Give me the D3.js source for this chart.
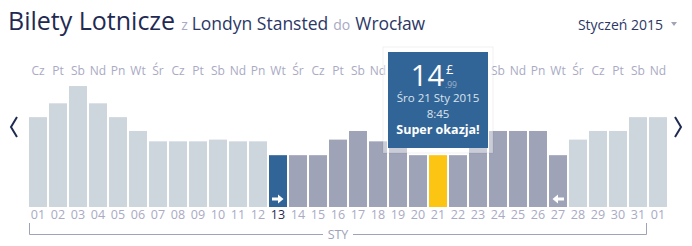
<!DOCTYPE html>
<html>
  <head>
    <meta charset="utf-8" />
    <script src="https://d3js.org/d3.v7.min.js"></script>
    <style>
      body {
        margin: 0;
        background: #fff;
      }
      svg {
        font-family: "Open Sans", "Noto Sans", sans-serif;
      }
    </style>
  </head>
  <body>
    <svg id="chart" width="692" height="246"></svg>

    <script>
      // data
      const dates = ["01", "02", "03", "04", "05", "06", "07", "08", "09", "10", "11", "12", "13", "14", "15", "16",
        "17", "18", "19", "20", "21", "22", "23", "24", "25", "26", "27", "28", "29", "30", "31", "01"];
      const weekdays = ["Cz", "Pt", "Sb", "Nd", "Pn", "Wt", "Śr", "Cz", "Pt", "Sb", "Nd", "Pn", "Wt", "Śr", "Cz", "Pt",
        "Sb", "Nd", "Pn", "Wt", "Śr", "Cz", "Pt", "Sb", "Nd", "Pn", "Wt", "Śr", "Cz", "Pt", "Sb", "Nd"];
      const prices = [25.99, 29.99, 34.99, 29.99, 25.99, 21.99, 18.99, 18.99, 18.99, 19.49, 18.99, 18.99, 14.99, 14.99,
        14.99, 19.49, 21.99, 18.99, 18.99, 14.99, 14.99, 14.99, 21.99, 21.99, 21.99, 21.99, 14.99, 19.49, 21.99, 21.99,
        25.99, 25.99];
      // out = outside the chosen range, sel = departure day, in = inside range, best = best deal
      const states = ["out", "out", "out", "out", "out", "out", "out", "out", "out", "out", "out", "out", "sel", "in",
        "in", "in", "in", "in", "in", "in", "best", "in", "in", "in", "in", "in", "in", "out", "out", "out", "out", "out"];
      const monthLabel = "STY";
      const best = { index: 20, whole: "14", cents: ".99", date: "Śro 21 Sty 2015", time: "8:45", note: "Super okazja!" };

      const svg = d3.select("#chart");
      const idx = d3.range(dates.length);

      const colors = { out: "#cdd5dd", in: "#9ea3b7", sel: "#326597", best: "#fcc413" };
      const labelCol = "#a9aac3";
      const navy = "#1f2a52";

      const x = d3.scaleBand().domain(idx).range([29, 667]).paddingInner(0.1).paddingOuter(0);
      const bottom = 207;
      const y = d3.scaleLinear().domain([0, 35]).range([bottom, 86]);

      // title
      const title = svg.append("text").attr("x", 8).attr("y", 30).attr("fill", navy);
      title.append("tspan").attr("font-size", 25).text("Bilety Lotnicze");
      title.append("tspan").attr("font-size", 14).attr("fill", labelCol).attr("dx", 6).text("z");
      title.append("tspan").attr("font-size", 17.5).attr("fill", "#2c3766").attr("dx", 4).text("Londyn Stansted");
      title.append("tspan").attr("font-size", 14).attr("fill", labelCol).attr("dx", 5).text("do");
      title.append("tspan").attr("font-size", 17.5).attr("fill", "#2c3766").attr("dx", 5).text("Wrocław");

      svg.append("text")
        .attr("x", 663).attr("y", 30)
        .attr("text-anchor", "end")
        .attr("font-size", 14)
        .attr("fill", "#2c3766")
        .text("Styczeń 2015");
      svg.append("path").attr("d", "M671,22L677,22L674,26Z").attr("fill", "#a0a4b4");

      // tooltip placement (bar centre of the best deal)
      const tx = x(best.index) + x.bandwidth() / 2;
      const tipHalf = 50;

      // weekday row (labels hidden under the tooltip are not shown)
      svg.append("g")
        .selectAll("text")
        .data(idx.filter((i) => Math.abs(x(i) + x.bandwidth() / 2 - tx) > tipHalf))
        .join("text")
        .attr("x", (i) => x(i) + x.bandwidth() / 2)
        .attr("y", 75)
        .attr("text-anchor", "middle")
        .attr("font-size", 12)
        .attr("fill", labelCol)
        .text((i) => weekdays[i]);

      // bars
      svg.append("g")
        .selectAll("rect")
        .data(idx)
        .join("rect")
        .attr("x", (i) => x(i))
        .attr("y", (i) => y(prices[i]))
        .attr("width", x.bandwidth())
        .attr("height", (i) => bottom - y(prices[i]))
        .attr("fill", (i) => colors[states[i]]);

      // arrows at start / end of the range
      const first = states.indexOf("sel");
      const last = states.lastIndexOf("in");
      const arrow = (cx, dir) =>
        "M" + (cx - 6 * dir) + ",197.5h" + 6 * dir + "v-3l" + 5.5 * dir + ",4.5l" + -5.5 * dir + ",4.5v-3h" + -6 * dir + "Z";
      svg.append("path").attr("d", arrow(x(first) + x.bandwidth() / 2, 1)).attr("fill", "#fff");
      svg.append("path").attr("d", arrow(x(last) + x.bandwidth() / 2, -1)).attr("fill", "#fff");

      // date row
      svg.append("g")
        .selectAll("text")
        .data(idx)
        .join("text")
        .attr("x", (i) => x(i) + x.bandwidth() / 2)
        .attr("y", 219)
        .attr("text-anchor", "middle")
        .attr("font-size", 12.5)
        .attr("fill", (i) => (states[i] === "sel" ? navy : labelCol))
        .text((i) => dates[i]);

      // month bracket
      const bx0 = x(0) + 0.5;
      const bx1 = x(30) + x.bandwidth() - 0.5;
      const bmid = (bx0 + bx1) / 2;
      svg.append("path")
        .attr("d", "M" + bx0 + ",223V234.5H" + (bmid - 15) + "M" + (bmid + 15) + ",234.5H" + bx1 + "V223")
        .attr("fill", "none")
        .attr("stroke", "#9ea3b7");
      svg.append("text")
        .attr("x", bmid).attr("y", 239)
        .attr("text-anchor", "middle")
        .attr("font-size", 12.5)
        .attr("fill", "#9ea3b7")
        .text(monthLabel);

      // prev / next chevrons
      svg.append("path").attr("d", "M17,117L11,127L17,137").attr("fill", "none").attr("stroke", navy).attr("stroke-width", 2);
      svg.append("path").attr("d", "M675,117L681,127L675,137").attr("fill", "none").attr("stroke", navy).attr("stroke-width", 2);

      // tooltip over best deal
      const tip = svg.append("g").attr("transform", "translate(" + tx + ",0)");
      tip.append("rect")
        .attr("x", -tipHalf - 5).attr("y", 47).attr("width", 2 * tipHalf + 10).attr("height", 106)
        .attr("fill", "rgba(255,255,255,0.45)")
        .attr("stroke", "rgba(0,0,0,0.06)");
      tip.append("rect")
        .attr("x", -tipHalf).attr("y", 52).attr("width", 2 * tipHalf).attr("height", 96)
        .attr("fill", colors.sel);
      tip.append("text")
        .attr("x", 6).attr("y", 86)
        .attr("text-anchor", "end")
        .attr("font-size", 29)
        .attr("fill", "#fff")
        .text(best.whole);
      tip.append("text").attr("x", 8).attr("y", 74).attr("font-size", 13).attr("fill", "#fff").text("£");
      tip.append("text").attr("x", 7).attr("y", 88).attr("font-size", 8.5).attr("fill", "#9fb3cc").text(best.cents);
      tip.append("text")
        .attr("y", 102).attr("text-anchor", "middle").attr("font-size", 11.5).attr("fill", "#dbe3ee")
        .text(best.date);
      tip.append("text")
        .attr("y", 118).attr("text-anchor", "middle").attr("font-size", 11.5).attr("fill", "#dbe3ee")
        .text(best.time);
      tip.append("text")
        .attr("y", 134).attr("text-anchor", "middle").attr("font-size", 12.5).attr("font-weight", "bold").attr("fill", "#fff")
        .text(best.note);
    </script>
  </body>
</html>
